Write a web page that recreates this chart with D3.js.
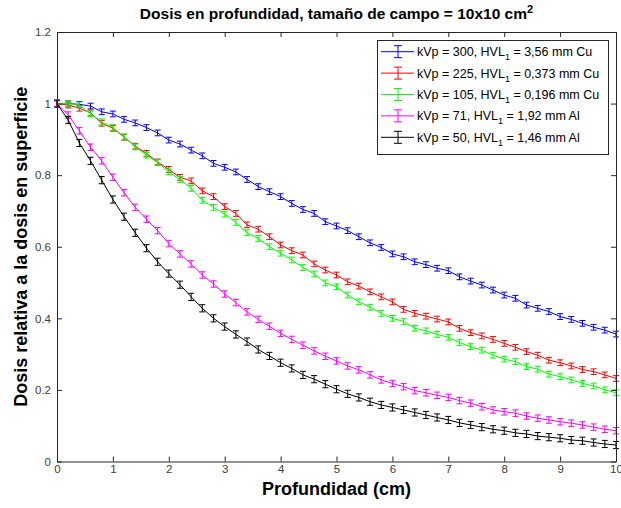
<!DOCTYPE html>
<html><head><meta charset="utf-8">
<script src="https://cdn.jsdelivr.net/npm/d3@7"></script>
<style>
html,body{margin:0;padding:0;background:#fff;}
svg{display:block;font-family:"Liberation Sans",Arial,sans-serif;}
</style>
</head><body>
<svg id="chart" width="621" height="508"></svg>
<script>
// ---- data ----
const depth = d3.range(0, 51).map(i => +(i * 0.2).toFixed(1)); // 0,0.2,...,10 (sample positions)
const kvp300 = [1.000,1.000,0.998,0.993,0.977,0.971,0.956,0.946,0.933,0.918,0.898,0.887,0.870,0.854,0.833,0.822,0.809,
  0.788,0.768,0.754,0.740,0.721,0.704,0.693,0.670,0.658,0.645,0.628,0.611,0.598,0.580,0.572,0.558,0.550,
  0.540,0.533,0.516,0.504,0.493,0.479,0.465,0.456,0.437,0.428,0.419,0.405,0.397,0.386,0.375,0.367,0.356];
const kvp225 = [1.000,0.996,0.987,0.974,0.945,0.931,0.906,0.881,0.861,0.837,0.816,0.794,0.784,0.756,0.740,0.712,0.693,
  0.661,0.649,0.628,0.605,0.589,0.577,0.552,0.535,0.521,0.502,0.490,0.474,0.460,0.446,0.425,0.414,0.406,
  0.398,0.390,0.372,0.360,0.351,0.341,0.330,0.319,0.307,0.297,0.283,0.276,0.267,0.257,0.251,0.242,0.232];
const kvp105 = [1.000,1.000,0.996,0.971,0.949,0.933,0.907,0.879,0.856,0.835,0.809,0.788,0.763,0.730,0.710,0.691,0.668,
  0.639,0.623,0.600,0.582,0.563,0.542,0.524,0.499,0.488,0.465,0.446,0.431,0.414,0.400,0.391,0.372,0.365,
  0.355,0.347,0.332,0.321,0.311,0.297,0.286,0.279,0.265,0.258,0.244,0.237,0.228,0.218,0.211,0.200,0.192];
const kvp71 = [1.000,0.968,0.924,0.878,0.840,0.794,0.751,0.710,0.677,0.645,0.609,0.580,0.552,0.521,0.496,0.468,0.444,
  0.418,0.397,0.378,0.358,0.341,0.325,0.309,0.294,0.281,0.267,0.256,0.242,0.228,0.218,0.209,0.198,0.192,
  0.185,0.179,0.170,0.163,0.153,0.144,0.139,0.135,0.127,0.121,0.116,0.111,0.107,0.102,0.096,0.090,0.086];
const kvp50 = [1.000,0.954,0.890,0.840,0.786,0.732,0.684,0.639,0.596,0.558,0.525,0.494,0.460,0.428,0.400,0.377,0.355,
  0.335,0.313,0.295,0.276,0.260,0.242,0.230,0.216,0.202,0.189,0.179,0.167,0.158,0.151,0.144,0.137,0.130,
  0.123,0.116,0.108,0.102,0.096,0.090,0.086,0.080,0.077,0.071,0.068,0.065,0.060,0.058,0.053,0.049,0.046];
const errHalf = [0.008, 0.008, 0.008, 0.009, 0.010];
const kvpLabels = ["300", "225", "105", "71", "50"];
const hvlLabels = ["3,56 mm Cu", "0,373 mm Cu", "0,196 mm Cu", "1,92 mm Al", "1,46 mm Al"];
const colors = ["#0000ff", "#ff0000", "#00ff00", "#ff00ff", "#000000"];
const xTicks = [0,1,2,3,4,5,6,7,8,9,10];
const yTicks = [0,0.2,0.4,0.6,0.8,1,1.2];
const yTickLabels = ["0","0.2","0.4","0.6","0.8","1","1.2"];
const seriesValues = [kvp300, kvp225, kvp105, kvp71, kvp50];

// ---- layout ----
const L = 57, R = 616, T = 32, B = 461.5;
const svg = d3.select("#chart");
const x = d3.scaleLinear().domain([0, 10]).range([L, R]);
const y = d3.scaleLinear().domain([0, 1.2]).range([B, T]);
const axisColor = "#262626";

// series
const line = d3.line().x(d => x(d[0])).y(d => y(d[1]));
seriesValues.forEach((vals, si) => {
  const pts = depth.map((d, i) => [d, vals[i]]);
  const g = svg.append("g").attr("stroke", colors[si]).attr("fill", "none").attr("stroke-width", 1);
  g.append("path").attr("d", line(pts));
  const e = errHalf[si];
  const eb = g.selectAll("g.eb").data(pts).enter().append("g");
  eb.append("line").attr("x1", d => x(d[0])).attr("x2", d => x(d[0]))
    .attr("y1", d => y(d[1] - e)).attr("y2", d => y(d[1] + e));
  eb.append("line").attr("x1", d => x(d[0]) - 3).attr("x2", d => x(d[0]) + 3)
    .attr("y1", d => y(d[1] - e)).attr("y2", d => y(d[1] - e));
  eb.append("line").attr("x1", d => x(d[0]) - 3).attr("x2", d => x(d[0]) + 3)
    .attr("y1", d => y(d[1] + e)).attr("y2", d => y(d[1] + e));
});

// axes
function style(g) {
  g.selectAll("path,line").attr("stroke", axisColor);
  g.selectAll("text").attr("fill", "#404040").attr("font-size", "11.5px")
    .attr("font-family", "'Liberation Sans',Arial,sans-serif");
}
svg.append("g").attr("transform", `translate(0,${B})`)
  .call(d3.axisBottom(x).tickValues(xTicks).tickSize(-5).tickSizeOuter(0).tickPadding(3).tickFormat(d3.format("d")))
  .call(style);
svg.append("g").attr("transform", `translate(0,${T})`)
  .call(d3.axisTop(x).tickValues(xTicks).tickSize(-5).tickSizeOuter(0).tickFormat(""))
  .call(style);
svg.append("g").attr("transform", `translate(${L},0)`)
  .call(d3.axisLeft(y).tickValues(yTicks).tickSize(-5).tickSizeOuter(0).tickPadding(6)
    .tickFormat((d, i) => yTickLabels[i]))
  .call(style);
svg.append("g").attr("transform", `translate(${R},0)`)
  .call(d3.axisRight(y).tickValues(yTicks).tickSize(-5).tickSizeOuter(0).tickFormat(""))
  .call(style);

// title
const title = svg.append("text").attr("x", (L + R) / 2).attr("y", 19)
  .attr("text-anchor", "middle").attr("font-weight", "bold").attr("font-size", "15.5px").attr("fill", "#000");
title.append("tspan").text("Dosis en profundidad, tamaño de campo = 10x10 cm");
title.append("tspan").attr("dy", -6).attr("font-size", "11px").text("2");

// axis labels
svg.append("text").attr("x", (L + R) / 2).attr("y", 495).attr("text-anchor", "middle")
  .attr("font-weight", "bold").attr("font-size", "18px").attr("fill", "#000").text("Profundidad (cm)");
svg.append("text").attr("transform", `translate(27,${(T + B) / 2}) rotate(-90)`).attr("text-anchor", "middle")
  .attr("font-weight", "bold").attr("font-size", "18px").attr("fill", "#000").text("Dosis relativa a la dosis en superficie");

// legend
const lg = svg.append("g");
lg.append("rect").attr("x", 377.5).attr("y", 40.5).attr("width", 231).attr("height", 114)
  .attr("fill", "#fff").attr("stroke", axisColor).attr("stroke-width", 1);
kvpLabels.forEach((k, i) => {
  const cy = 51.7 + i * 21.4;
  const row = lg.append("g").attr("stroke", colors[i]).attr("stroke-width", 1);
  row.append("line").attr("x1", 381).attr("x2", 414).attr("y1", cy).attr("y2", cy);
  row.append("line").attr("x1", 398).attr("x2", 398).attr("y1", cy - 6).attr("y2", cy + 6);
  row.append("line").attr("x1", 394).attr("x2", 402).attr("y1", cy - 6).attr("y2", cy - 6);
  row.append("line").attr("x1", 394).attr("x2", 402).attr("y1", cy + 6).attr("y2", cy + 6);
  const t = lg.append("text").attr("x", 417).attr("y", cy + 4.5).attr("font-size", "12.5px").attr("fill", "#000");
  t.append("tspan").text(`kVp = ${k}, HVL`);
  t.append("tspan").attr("dy", 4).attr("font-size", "9px").text("1");
  t.append("tspan").attr("dy", -4).text(` = ${hvlLabels[i]}`);
});
</script>
</body></html>
